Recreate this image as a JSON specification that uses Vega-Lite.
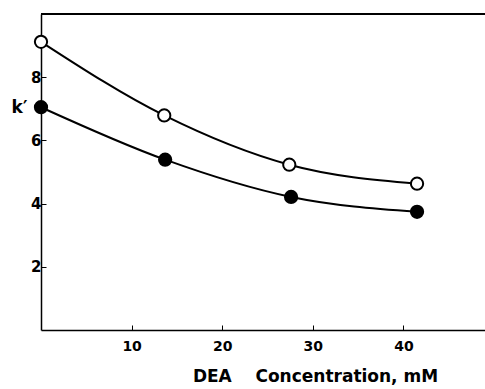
{
  "$schema": "https://vega.github.io/schema/vega-lite/v6.json",
  "width": 444,
  "height": 316,
  "autosize": "none",
  "padding": {"left": 41, "top": 14, "right": 0, "bottom": 59},
  "background": "white",
  "config": {"view": {"stroke": null}},
  "data": {"values": [
    {"conc": 0, "k": 9.12, "series": "open"},
    {"conc": 13.6, "k": 6.79, "series": "open"},
    {"conc": 27.4, "k": 5.23, "series": "open"},
    {"conc": 41.5, "k": 4.63, "series": "open"},
    {"conc": 0, "k": 7.05, "series": "filled"},
    {"conc": 13.7, "k": 5.39, "series": "filled"},
    {"conc": 27.6, "k": 4.21, "series": "filled"},
    {"conc": 41.5, "k": 3.74, "series": "filled"}
  ]},
  "layer": [
    {
      "mark": {"type": "rule", "color": "black", "strokeWidth": 1.5},
      "encoding": {"y": {"datum": 10, "type": "quantitative"}}
    },
    {
      "mark": {"type": "line", "interpolate": "monotone", "color": "black", "strokeWidth": 2},
      "encoding": {
        "x": {"field": "conc", "type": "quantitative",
              "scale": {"domain": [0, 49], "nice": false},
              "axis": {"values": [10, 20, 30, 40], "grid": false, "domain": true, "domainColor": "black", "domainWidth": 1.5,
                       "tickColor": "black", "tickSize": -5, "tickWidth": 1, "labelPadding": 14,
                       "labelFont": "DejaVu Sans", "labelFontWeight": "bold", "labelFontSize": 14, "labelColor": "black",
                       "title": "DEA\u00a0\u00a0\u00a0\u00a0Concentration, mM", "titleFont": "DejaVu Sans", "titleFontWeight": "bold", "titleFontSize": 17,
                       "titleColor": "black", "titleX": 274, "titleAlign": "center", "titleY": 55, "titleBaseline": "bottom"}},
        "y": {"field": "k", "type": "quantitative",
              "scale": {"domain": [0, 10], "nice": false},
              "axis": {"values": [2, 4, 6, 8], "grid": false, "domain": true, "domainColor": "black", "domainWidth": 1.5,
                       "tickColor": "black", "tickSize": -5, "tickWidth": 1, "labelPadding": 5,
                       "labelFont": "DejaVu Sans", "labelFontWeight": "bold", "labelFontSize": 15, "labelColor": "black",
                       "title": "k′", "titleAngle": 0, "titleFont": "DejaVu Sans", "titleFontWeight": "bold", "titleFontSize": 17,
                       "titleColor": "black", "titleX": -22, "titleY": 93, "titleAlign": "center", "titleBaseline": "middle"}},
        "detail": {"field": "series"}
      }
    },
    {
      "mark": {"type": "point", "shape": "circle", "size": 150, "stroke": "black", "strokeWidth": 2, "opacity": 1},
      "encoding": {
        "x": {"field": "conc", "type": "quantitative"},
        "y": {"field": "k", "type": "quantitative"},
        "fill": {"field": "series", "type": "nominal", "scale": {"domain": ["open", "filled"], "range": ["white", "black"]}, "legend": null}
      }
    }
  ]
}
